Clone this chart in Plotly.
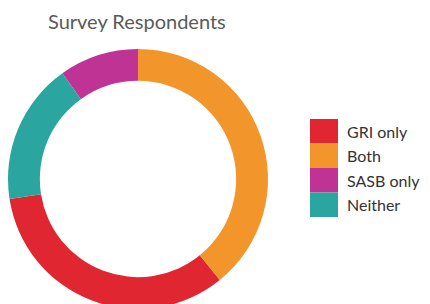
import plotly.graph_objects as go

labels = ["GRI only", "Both", "SASB only", "Neither"]
values = [33.4, 39.2, 9.9, 17.6]
colors = ["#E02630", "#F2952B", "#BE3393", "#2AA59F"]
title_text = "Survey Respondents"

# page body has an 8px margin; figure coords = reference coords - 8
OFF = 8
W, H = 430, 320


def px(x):
    return (x - OFF) / W


def py(y):
    return 1 - (y - OFF) / H


fig = go.Figure()
fig.add_trace(go.Pie(
    labels=labels,
    values=values,
    hole=0.755,
    sort=False,
    direction="counterclockwise",
    rotation=141,
    marker=dict(colors=colors, line=dict(width=0)),
    textinfo="none",
    hoverinfo="label+percent",
    showlegend=False,
    domain=dict(x=[px(8), px(268)], y=[py(309), py(49)]),
))

# custom legend with large swatches
sw_x0, sw_x1 = 310, 338
top0, step = 119, 24.5
shapes = []
annotations = []
for i, (lab, col) in enumerate(zip(labels, colors)):
    t = top0 + i * step
    b = t + step
    shapes.append(dict(type="rect", xref="paper", yref="paper",
                       x0=px(sw_x0), x1=px(sw_x1),
                       y0=py(b), y1=py(t),
                       fillcolor=col, line=dict(width=0)))
    annotations.append(dict(text=lab, xref="paper", yref="paper",
                            x=px(345), y=py(t + step / 2),
                            xanchor="left", yanchor="middle", showarrow=False,
                            font=dict(family="Lato, Noto Sans, sans-serif", size=16, color="#333333")))

annotations.append(dict(text=title_text, xref="paper", yref="paper",
                        x=px(137), y=py(21), xanchor="center", yanchor="middle",
                        showarrow=False,
                        font=dict(family="Lato, Noto Sans, sans-serif", size=20, color="#5a5a5a")))

fig.update_layout(
    width=W, height=H,
    margin=dict(l=0, r=0, t=0, b=0),
    paper_bgcolor="white",
    plot_bgcolor="white",
    shapes=shapes,
    annotations=annotations,
)

fig.write_html("out.html")
